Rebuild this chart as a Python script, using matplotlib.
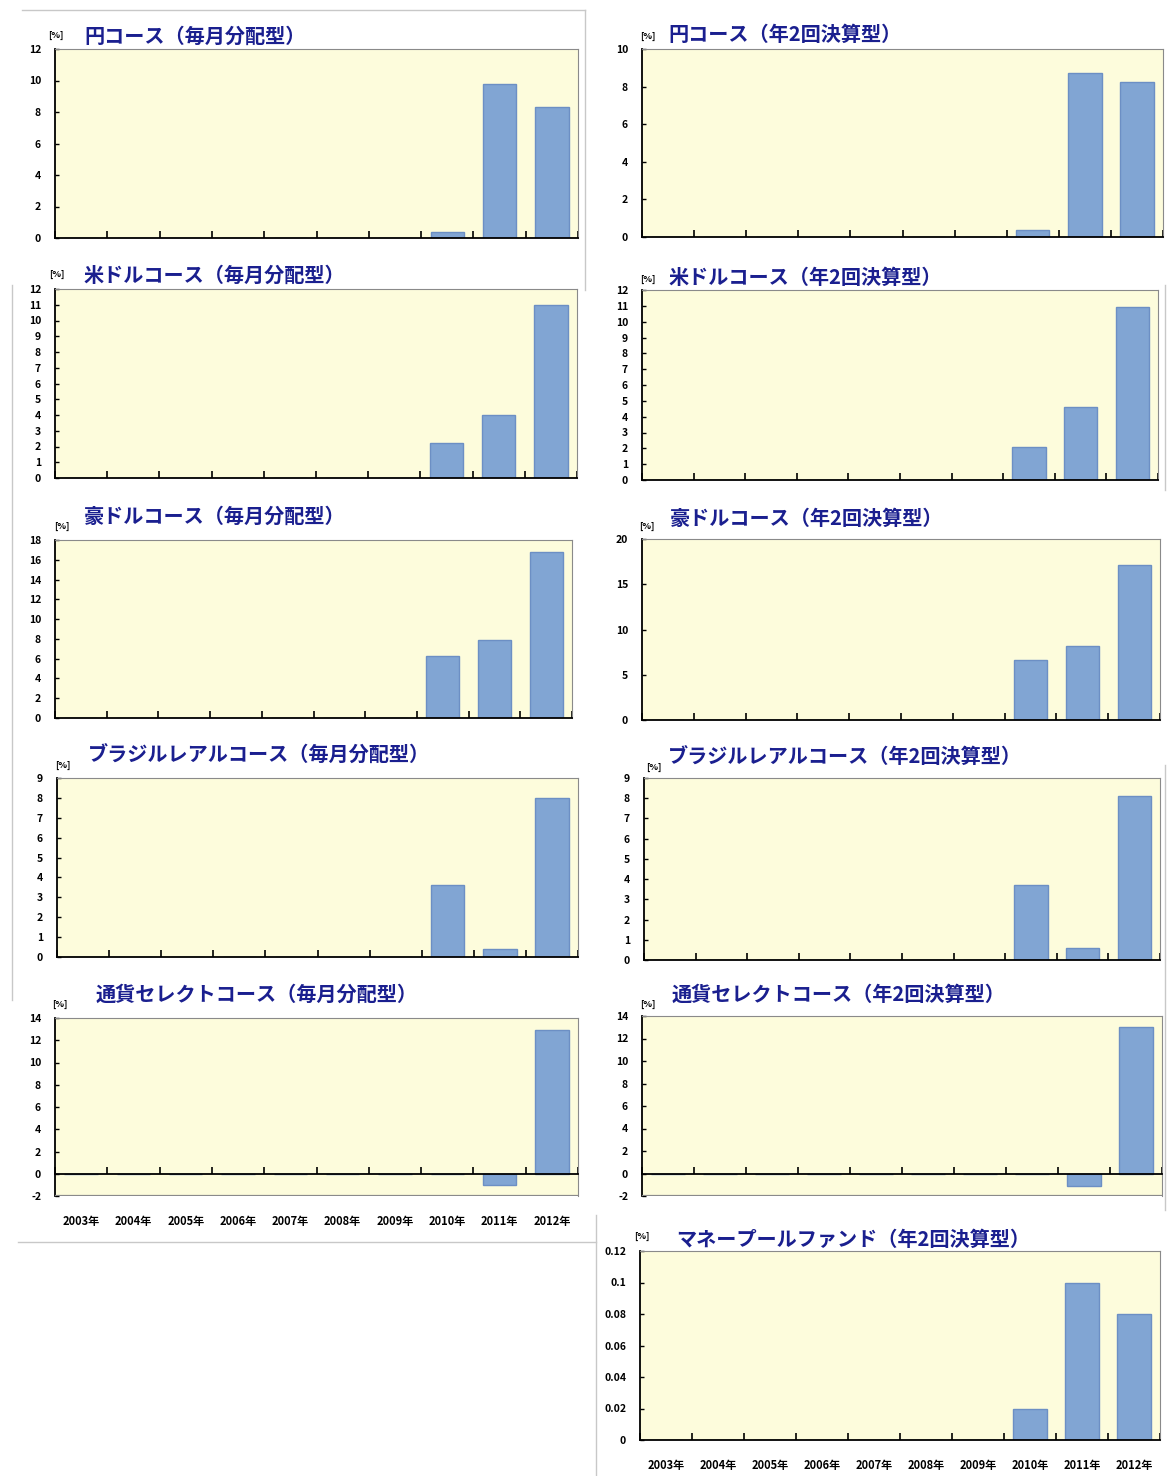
import numpy as np
import matplotlib.pyplot as plt
from matplotlib.lines import Line2D

plt.rcParams['font.family'] = ['Noto Sans CJK JP', 'DejaVu Sans']

years = ['2003年', '2004年', '2005年', '2006年', '2007年',
         '2008年', '2009年', '2010年', '2011年', '2012年']

yen_monthly = [0, 0, 0, 0, 0, 0, 0, 0.4, 9.8, 8.3]
usd_monthly = [0, 0, 0, 0, 0, 0, 0, 2.2, 4.0, 11.0]
aud_monthly = [0, 0, 0, 0, 0, 0, 0, 6.3, 7.9, 16.8]
brl_monthly = [0, 0, 0, 0, 0, 0, 0, 3.6, 0.4, 8.0]
sel_monthly = [0, 0, 0, 0, 0, 0, 0, 0, -1.0, 12.9]

yen_semi = [0, 0, 0, 0, 0, 0, 0, 0.37, 8.7, 8.25]
usd_semi = [0, 0, 0, 0, 0, 0, 0, 2.1, 4.6, 10.9]
aud_semi = [0, 0, 0, 0, 0, 0, 0, 6.6, 8.2, 17.1]
brl_semi = [0, 0, 0, 0, 0, 0, 0, 3.7, 0.6, 8.1]
sel_semi = [0, 0, 0, 0, 0, 0, 0, 0, -1.1, 13.0]
money_pool = [0, 0, 0, 0, 0, 0, 0, 0.02, 0.10, 0.08]

W, H = 1169, 1476
fig = plt.figure(figsize=(W / 100, H / 100), dpi=100)

bg = '#fdfcdc'
bar_c = '#81a5d3'
bar_e = '#6c8fc4'
navy = '#1a1f8f'

# (values, title, rect px (l, t, r, b), title pos, pct pos, ylim, ystep, show x labels)
panels = [
    (yen_monthly, '円コース（毎月分配型）', (55, 49, 578, 238), (84, 36), (56, 35), (0, 12), 2, False),
    (usd_monthly, '米ドルコース（毎月分配型）', (55, 289, 577, 478), (84, 275), (57, 274), (0, 12), 1, False),
    (aud_monthly, '豪ドルコース（毎月分配型）', (55, 540, 572, 718), (84, 516), (62, 526), (0, 18), 2, False),
    (brl_monthly, 'ブラジルレアルコース（毎月分配型）', (57, 778, 578, 957), (88, 755), (63, 765), (0, 9), 1, False),
    (sel_monthly, '通貨セレクトコース（毎月分配型）', (55, 1018, 578, 1196), (96, 994), (60, 1004), (-2, 14), 2, True),
    (yen_semi, '円コース（年2回決算型）', (642, 49, 1163, 237), (668, 34), (648, 36), (0, 10), 2, False),
    (usd_semi, '米ドルコース（年2回決算型）', (642, 290, 1158, 480), (669, 277), (648, 279), (0, 12), 1, False),
    (aud_semi, '豪ドルコース（年2回決算型）', (642, 539, 1160, 720), (670, 518), (647, 526), (0, 20), 5, False),
    (brl_semi, 'ブラジルレアルコース（年2回決算型）', (644, 778, 1160, 960), (668, 757), (654, 767), (0, 9), 1, False),
    (sel_semi, '通貨セレクトコース（年2回決算型）', (642, 1016, 1162, 1196), (672, 994), (648, 1004), (-2, 14), 2, False),
    (money_pool, 'マネープールファンド（年2回決算型）', (640, 1251, 1160, 1440), (676, 1239), (642, 1236), (0, 0.12), 0.02, True),
]

x = np.arange(len(years))

for vals, title, (l, t, r, b), (tx, ty), (px, py), (y0, y1), step, showx in panels:
    ax = fig.add_axes([l / W, 1 - b / H, (r - l) / W, (b - t) / H])
    ax.set_facecolor(bg)
    ax.bar(x, vals, width=0.64, color=bar_c, edgecolor=bar_e, linewidth=1, zorder=2)
    ax.set_xlim(-0.5, len(years) - 0.5)
    ax.set_ylim(y0, y1)
    ticks = np.round(np.arange(y0, y1 + step / 2, step), 4)
    ax.set_yticks(ticks)
    ax.set_yticklabels(['%g' % v for v in ticks])

    for s in ['top', 'right']:
        ax.spines[s].set_color('#8a8a8a')
    ax.spines['left'].set_color('black')
    ax.spines['left'].set_linewidth(1.3)
    ax.spines['bottom'].set_color('black')
    ax.spines['bottom'].set_linewidth(1.3)
    if y0 < 0:
        ax.spines['bottom'].set_position(('data', 0))
        ax.axhline(y0, color='#8a8a8a', lw=1.6, zorder=3)

    ax.set_xticks(np.arange(len(years) + 1) - 0.5, minor=False)
    ax.tick_params(axis='x', direction='in', length=5, width=1.2, labelbottom=False)
    ax.tick_params(axis='y', direction='in', length=3, width=1, labelsize=7.5, pad=10)
    for lab in ax.get_yticklabels():
        lab.set_fontweight('bold')

    if showx:
        for i, yr in enumerate(years):
            fig.text((l + (r - l) * (i + 0.5) / len(years)) / W, 1 - (b + 25) / H, yr,
                     ha='center', va='center', fontsize=8, fontweight='bold')

    fig.text(tx / W, 1 - ty / H, title, ha='left', va='center', fontsize=14.5,
             fontweight='bold', color=navy)
    fig.text(px / W, 1 - py / H, '[%]', ha='center', va='center', fontsize=6.5,
             fontweight='bold')

# faint panel border lines from the original screenshot
def pline(xs, ys):
    fig.add_artist(Line2D([v / W for v in xs], [1 - v / H for v in ys],
                          color='#c8c8c8', lw=1))

pline([22, 585], [10, 10])
pline([585, 585], [10, 290])
pline([18, 596], [1242, 1242])
pline([596, 596], [1215, 1476])
pline([12, 12], [285, 1000])
pline([1165, 1165], [285, 490])
pline([1165, 1165], [765, 1210])

fig.savefig('out.png', dpi=100)
